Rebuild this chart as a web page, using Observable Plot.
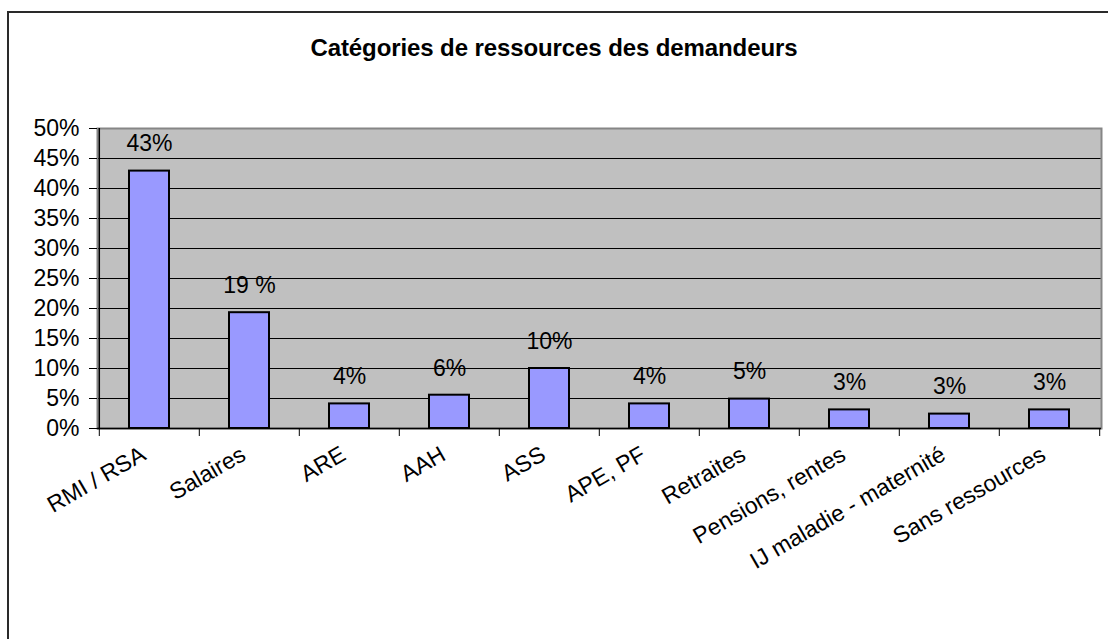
<!DOCTYPE html>
<html>
<head>
<meta charset="utf-8">
<script src="https://cdn.jsdelivr.net/npm/d3@7"></script>
<script src="https://cdn.jsdelivr.net/npm/@observablehq/plot@0.6"></script>
<style>
  html, body { margin: 0; padding: 0; background: #fff; overflow: hidden; width: 1108px; height: 639px; }
  #frame { position: absolute; left: 7px; top: 11px; width: 1200px; height: 800px; border: 2px solid #2a2a2a; box-sizing: border-box; }
  #wrap { position: absolute; left: 0; top: 0; width: 1108px; }
  #title { height: 96px; line-height: 96px; text-align: center; font-family: "Liberation Sans", Arial, sans-serif; font-weight: bold; font-size: 24px; color: #000; letter-spacing: -0.1px; }
  svg { display: block; }
</style>
</head>
<body>
<div id="frame"></div>
<div id="wrap">
  <div id="title">Catégories de ressources des demandeurs</div>
  <div id="chart"></div>
</div>
<script>
const categories = ["RMI / RSA", "Salaires", "ARE", "AAH", "ASS", "APE, PF", "Retraites", "Pensions, rentes", "IJ maladie - maternité", "Sans ressources"];
const values = [0.429, 0.193, 0.041, 0.0555, 0.100, 0.041, 0.049, 0.031, 0.024, 0.031];
const valueLabels = ["43%", "19 %", "4%", "6%", "10%", "4%", "5%", "3%", "3%", "3%"];
const yTicks = [0, 0.05, 0.10, 0.15, 0.20, 0.25, 0.30, 0.35, 0.40, 0.45, 0.50];

const data = categories.map((c, i) => ({category: c, value: values[i], label: valueLabels[i]}));
const font = "'Liberation Sans', Arial, sans-serif";

const W = 1108, H = 543;
const mL = 97, mR = 7;
const band = (W - mL - mR) / categories.length;

const chart = Plot.plot({
  width: W,
  height: H,
  marginLeft: mL,
  marginRight: mR,
  marginTop: 32,
  marginBottom: 211,
  style: {fontFamily: font, fontSize: "22px", color: "#000", background: "transparent"},
  x: {domain: categories, padding: 0},
  y: {domain: [0, 0.5]},
  marks: [
    Plot.frame({fill: "#c0c0c0"}),
    Plot.ruleY(yTicks, {stroke: "#000", strokeWidth: 1}),
    Plot.frame({stroke: "#868686", strokeWidth: 2}),
    Plot.barY(data, {x: "category", y: "value", fill: "#9999ff", stroke: "#000", strokeWidth: 2, insetLeft: 30, insetRight: 30}),
    Plot.text(data, {x: "category", y: "value", text: "label", dy: -27, fontSize: 23, fill: "#000"}),
    Plot.axisY(yTicks, {tickSize: 8, tickPadding: 10, tickFormat: d3.format(".0%"), fontSize: 23, stroke: "#000", label: null}),
    Plot.ruleX([0], {x: () => categories[0], dx: -band / 2, stroke: "#000", strokeWidth: 1.5}),
    Plot.ruleY([0], {stroke: "#000", strokeWidth: 1.5}),
    Plot.axisX(categories, {tickSize: 8, dx: -band / 2, text: null, stroke: "#000", label: null}),
    Plot.axisX([categories[categories.length - 1]], {tickSize: 8, dx: band / 2, text: null, stroke: "#000", label: null}),
    Plot.axisX(categories, {tickSize: 0, tickPadding: 24, dx: -6, tickRotate: -30, fontSize: 23, label: null, fill: "#000"})
  ]
});
document.getElementById("chart").appendChild(chart);
</script>
</body>
</html>
